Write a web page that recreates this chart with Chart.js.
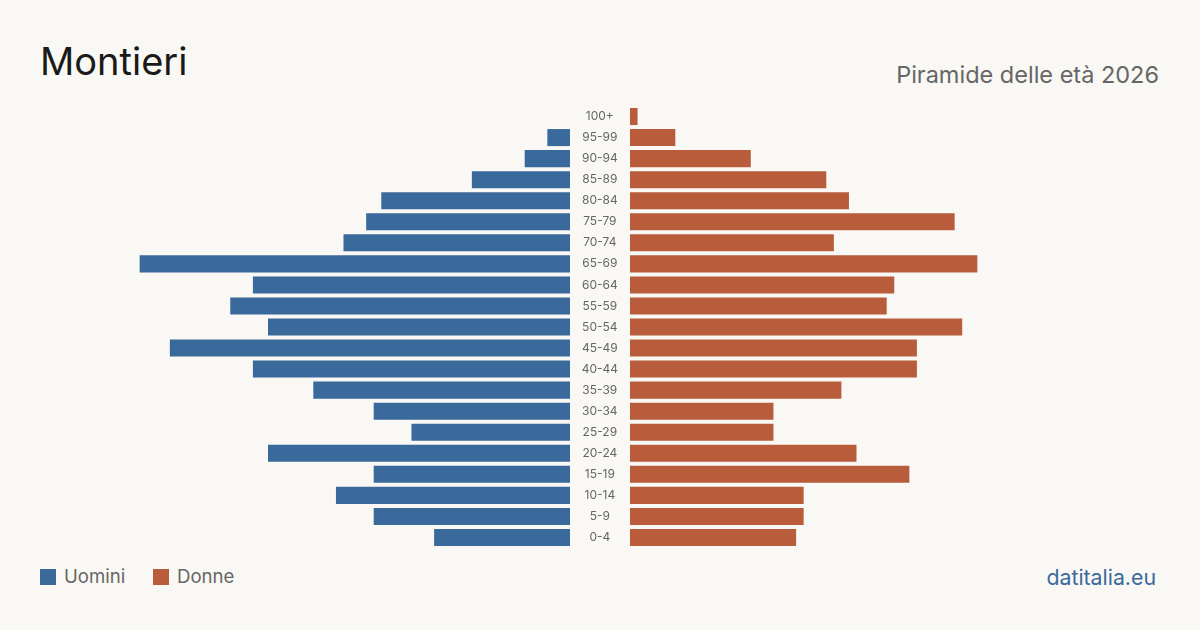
<!DOCTYPE html>
<html>
<head>
<meta charset="utf-8">
<script src="https://cdn.jsdelivr.net/npm/chart.js@4"></script>
<style>
  html, body { margin: 0; padding: 0; }
  body { width: 1200px; height: 630px; background: #f9f8f4; position: relative; overflow: hidden; font-family: 'Inter', sans-serif; }
  #title { position: absolute; left: 40px; top: 42px; font-size: 38px; color: #1a1a1a; line-height: 1; }
  #subtitle { position: absolute; right: 41px; top: 63px; font-size: 23.5px; color: #666; line-height: 1; }
  #left { position: absolute; left: 117px; top: 106px; }
  #right { position: absolute; left: 570px; top: 106px; }
  .legend { position: absolute; top: 566px; font-size: 18.6px; color: #666; line-height: 20px; }
  .legend span.box { display: inline-block; width: 16px; height: 16px; vertical-align: -2px; margin-right: 8px; }
  #site { position: absolute; right: 44px; top: 564px; font-size: 21.3px; color: #3a6a9b; }
</style>
</head>
<body>
<div id="title">Montieri</div>
<div id="subtitle">Piramide delle età 2026</div>
<canvas id="left" width="453" height="442"></canvas>
<canvas id="right" width="513" height="442"></canvas>
<div class="legend" style="left:40px"><span class="box" style="background:#3a6a9b"></span>Uomini</div>
<div class="legend" style="left:153px"><span class="box" style="background:#b85c3c"></span>Donne</div>
<div id="site">datitalia.eu</div>
<script>
let ageGroups = ["100+","95-99","90-94","85-89","80-84","75-79","70-74","65-69","60-64","55-59","50-54","45-49","40-44","35-39","30-34","25-29","20-24","15-19","10-14","5-9","0-4"]
let men =   [0, 3, 6, 13, 25, 27, 30, 57, 42, 45, 40, 53, 42, 34, 26, 21, 40, 26, 31, 26, 18]
let women = [1, 6, 16, 26, 29, 43, 27, 46, 35, 34, 44, 38, 38, 28, 19, 19, 30, 37, 23, 23, 22]

let maxValue = 60
Chart.defaults.font.family = "'Inter', sans-serif"
Chart.defaults.animation = false

function barData(values, color) {
  return {
    labels: ageGroups,
    datasets: [{
      data: values,
      backgroundColor: color,
      barPercentage: 0.81,
      categoryPercentage: 1
    }]
  }
}

new Chart(document.getElementById("left"), {
  type: "bar",
  data: barData(men, "#3a6a9b"),
  options: {
    indexAxis: "y",
    responsive: false,
    layout: { padding: 0 },
    plugins: { legend: { display: false }, tooltip: { enabled: false } },
    scales: {
      x: { display: false, min: 0, max: maxValue, reverse: true },
      y: { display: false }
    }
  }
})

new Chart(document.getElementById("right"), {
  type: "bar",
  data: barData(women, "#b85c3c"),
  options: {
    indexAxis: "y",
    responsive: false,
    layout: { padding: 0 },
    plugins: { legend: { display: false }, tooltip: { enabled: false } },
    scales: {
      x: { display: false, min: 0, max: maxValue },
      y: {
        grid: { display: false },
        border: { display: false },
        ticks: { color: "#666", font: { size: 12 }, crossAlign: "center", padding: 4 },
        afterFit: function(scale) {
          scale.width = 60
          scale.paddingTop = 0
          scale.paddingBottom = 0
        }
      }
    }
  }
})
</script>
</body>
</html>
